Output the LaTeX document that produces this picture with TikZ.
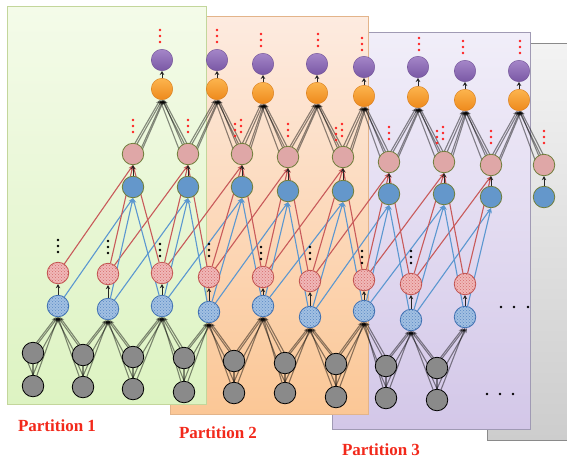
\documentclass[tikz,border=0pt]{standalone}
\usepackage{fontspec}
\setmainfont{Liberation Serif}
\usetikzlibrary{arrows.meta,patterns,calc}
\pgfdeclarelayer{panels}
\pgfdeclarelayer{lines}
\pgfdeclarelayer{over}
\pgfsetlayers{panels,lines,main,over}
\definecolor{grayfill}{HTML}{8A8A8A}
\definecolor{bhatfill}{HTML}{A2C0E2}
\definecolor{bhatdraw}{HTML}{3C6EB0}
\definecolor{bhatpat}{HTML}{5A88C4}
\definecolor{rhatfill}{HTML}{F0B8B8}
\definecolor{rhatdraw}{HTML}{C0504D}
\definecolor{rhatpat}{HTML}{D46A6A}
\definecolor{bsolfill}{HTML}{6497CB}
\definecolor{oliveedge}{HTML}{6F7D3A}
\definecolor{pkfill}{HTML}{DFA7A7}
\definecolor{orntop}{HTML}{FCB44E}
\definecolor{ornbot}{HTML}{EE891C}
\definecolor{prptop}{HTML}{A486C8}
\definecolor{prpbot}{HTML}{7A58A5}
\definecolor{redline}{HTML}{C85A5A}
\definecolor{blueline}{HTML}{5B97D0}
\definecolor{dotred}{HTML}{FF2020}
\definecolor{labred}{HTML}{F2291B}
\definecolor{ponetop}{HTML}{F4FBE9}
\definecolor{ponebot}{HTML}{DDF3C2}
\definecolor{poneedge}{HTML}{C3D69B}
\definecolor{ptwotop}{HTML}{FDEBE0}
\definecolor{ptwobot}{HTML}{FBC796}
\definecolor{ptwoedge}{HTML}{E3B48A}
\definecolor{pthreetop}{HTML}{F1EEF9}
\definecolor{pthreebot}{HTML}{D3C7E8}
\definecolor{pthreeedge}{HTML}{A09AB4}
\definecolor{pfourtop}{HTML}{F3F3F3}
\definecolor{pfourbot}{HTML}{CDCDCD}
\definecolor{pfouredge}{HTML}{8A8A8A}
\newcommand\gbundle[3]{%
  \draw[bl] ($(#1)+(-6,2)$) -- ($(#3.south)+(-2,0)$);
  \draw[bl] ($(#1)+(6,2)$) -- ($(#3.south)+(2,0)$);
  \draw[bl] ($(#1)+(0,-3)$) -- (#3.south);
  \draw[bl] (#2) -- (#3.south);
}
\newcommand\pbundle[2]{%
  \draw[bl] ($(#1)+(-6,3)$) -- ($(#2.south)+(-2,0)$);
  \draw[bl] ($(#1)+(0,-3)$) -- (#2.south);
  \draw[bl] ($(#1)+(6,3)$) -- ($(#2.south)+(2,0)$);
  \draw[bl] ($(#1)+(2,8)$) -- ($(#2.south)+(1,0)$);
}
\newcommand\reddots[2]{\foreach \d in {-6,0,6}{\fill[dotred] (#1,{#2+\d}) circle (1.4pt);}}
\newcommand\blackdots[2]{\foreach \d in {-6,0,6}{\fill[black] (#1,{#2+\d}) circle (1.4pt);}}
\begin{document}
\begin{tikzpicture}[x=1pt,y=-1pt,
  nd/.style={circle,minimum size=21.5pt,inner sep=0pt,line width=0.8pt},
  grayn/.style={nd,draw=black,fill=grayfill},
  bhat/.style={nd,draw=bhatdraw,fill=bhatfill,postaction={pattern=crosshatch dots,pattern color=bhatpat}},
  rhat/.style={nd,draw=rhatdraw,fill=rhatfill,postaction={pattern=crosshatch dots,pattern color=rhatpat}},
  bsol/.style={nd,draw=oliveedge,fill=bsolfill},
  pknode/.style={nd,draw=oliveedge,fill=pkfill},
  orn/.style={nd,draw=ornbot!90!black,line width=0.4pt,top color=orntop,bottom color=ornbot},
  prp/.style={nd,draw=prpbot!90!black,line width=0.4pt,top color=prptop,bottom color=prpbot},
  bl/.style={draw=black,opacity=0.45,line width=1.1pt,-{Stealth[length=4.5pt,width=4pt]}},
  bln/.style={draw=black,opacity=0.45,line width=1.1pt},
  rl/.style={draw=redline,line width=1.1pt,-{Stealth[length=5pt,width=4pt]}},
  bul/.style={draw=blueline,line width=1.1pt,-{Stealth[length=5pt,width=4pt]}},
  sa/.style={draw=black!85,line width=1pt,-{Stealth[length=4pt,width=4.5pt]}},
  lab/.style={text=labred,font=\bfseries\fontsize{17}{20}\selectfont,inner sep=0pt}
]
\clip (0,0) rectangle (567,459);
\begin{pgfonlayer}{panels}
  \path[draw=pfouredge,line width=1pt,top color=pfourtop,bottom color=pfourbot] (487,43) rectangle (600,440);
  \path[draw=pthreeedge,line width=1pt,top color=pthreetop,bottom color=pthreebot] (332,32) rectangle (530,429);
  \path[draw=ptwoedge,line width=0.8pt,top color=ptwotop,bottom color=ptwobot] (170,16) rectangle (368,414);
  \path[draw=poneedge,line width=0.8pt,top color=ponetop,bottom color=ponebot] (7,6) rectangle (206,404);
\end{pgfonlayer}
% nodes
\foreach \i/\x/\yu/\yb in {0/33/353/386,1/83/355/387,2/133/357/389,3/184/358/392,4/234/361/393,5/285/363/393,6/336/364/397,7/386/366/398,8/437/368/400}{
  \node[grayn] (gu\i) at (\x,\yu) {};
  \node[grayn] (gb\i) at (\x,\yb) {};
}
\foreach \i/\x/\yb/\yr in {0/58/306/273,1/108/309/274,2/162/306/273,3/209/312/277,4/263/306/277,5/310/317/281,6/364/311/280,7/411/320/284,8/465/317/284}{
  \node[bhat] (hb\i) at (\x,\yb) {};
  \node[rhat] (hr\i) at (\x,\yr) {};
}
\foreach \i/\x/\ys/\yp in {0/133/187/154,1/188/187/154,2/242/187/154,3/288/191/157,4/343/191/157,5/389/194/162,6/444/194/162,7/491/197/165,8/544/197/165}{
  \node[bsol] (bs\i) at (\x,\ys) {};
  \node[pknode] (pk\i) at (\x,\yp) {};
}
\foreach \i/\x/\yo/\yu in {0/162/89/60,1/217/89/60,2/263/93/64,3/317/93/64,4/364/96/67,5/418/97/67,6/465/100/71,7/519/100/71}{
  \node[orn] (or\i) at (\x,\yo) {};
  \node[prp] (pu\i) at (\x,\yu) {};
}
\begin{pgfonlayer}{lines}
% long coloured connectors
\foreach \i in {0,...,8}{
  \foreach \k in {0,1,2}{
    \pgfmathtruncatemacro\j{\i-\k}
    \ifnum\j>-1 \ifnum\j<8
      \draw[bul] (hb\i) -- (bs\j.south);
      \draw[rl] (hr\i) -- (pk\j.south);
    \fi\fi
  }
}
% gray bundles
\foreach \m in {0,...,8}{
  \gbundle{gu\m}{gb\m}{hb\m}
  \foreach \d/\e in {-7/5,0/8,7/5}{\draw[bln] (gb\m.north) -- ($(gu\m)+(\d,\e)$);}
}
\foreach \m/\n in {0/1,1/2,2/3,3/4,4/5,5/6,6/7,7/8}{
  \gbundle{gu\n}{gb\n}{hb\m}
}
% pink to orange bundles
\foreach \k in {0,...,7}{
  \pgfmathtruncatemacro\kk{\k+1}
  \pbundle{pk\k}{or\k}
  \pbundle{pk\kk}{or\k}
}
\end{pgfonlayer}
\begin{pgfonlayer}{over}
\foreach \k in {0,...,7}{
  \draw[sa] (or\k.north) -- (pu\k.south);
}
\foreach \i in {0,...,8}{
  \draw[sa] (hb\i.north) -- (hr\i.south);
  \draw[sa] (bs\i.north) -- (pk\i.south);
}
% dots
\foreach \x/\y in {160/36,217/36,261/40,318/40,362/44,419/44,463/47,520/47,133/126,188/126,235/130,241/126,288/130,336/134,342/130,389/133,437/137,443/133,491/137,544/137}{\reddots{\x}{\y}}
\foreach \x/\y in {58/246,108/247,160/250,209/250,261/253,310/253,362/257,411/257}{\blackdots{\x}{\y}}
\foreach \x in {501,514,528}{\fill[black] (\x,307) circle (1.4pt);}
\foreach \x in {487,500,513}{\fill[black] (\x,394) circle (1.4pt);}
\end{pgfonlayer}
% labels
\node[lab] (lab1) at (57,426) {Partition 1};
\node[lab] (lab2) at (218,433) {Partition 2};
\node[lab] (lab3) at (381,450) {Partition 3};
\end{tikzpicture}
\end{document}
